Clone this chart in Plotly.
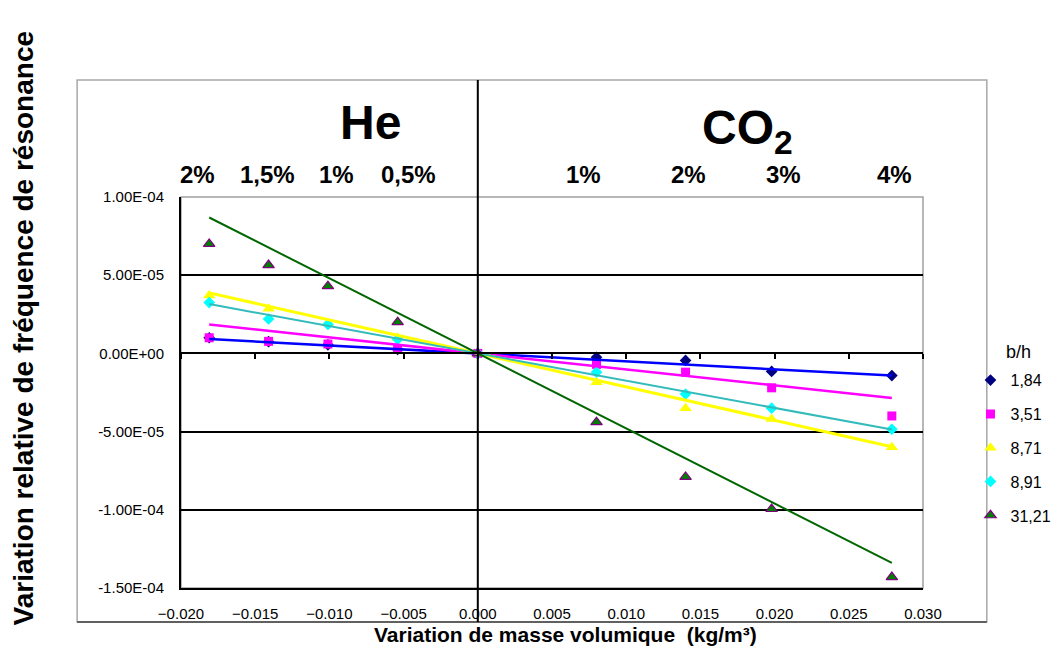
import plotly.graph_objects as go
import numpy as np

# variation de masse volumique (kg/m3), He a gauche, CO2 a droite
x_values = [-0.0181, -0.0141, -0.0101, -0.0054, 0.0, 0.0080, 0.0140, 0.0198, 0.0279]

series_names = ["1,84", "3,51", "8,71", "8,91", "31,21"]
y_184 = [1.0e-5, 0.75e-5, 0.55e-5, 0.25e-5, 0.0, -0.25e-5, -0.45e-5, -1.15e-5, -1.42e-5]
y_351 = [1.0e-5, 0.77e-5, 0.6e-5, 0.25e-5, 0.0, -0.7e-5, -1.2e-5, -2.2e-5, -4.0e-5]
y_871 = [3.7e-5, 2.85e-5, 1.95e-5, 1.0e-5, 0.0, -1.85e-5, -3.5e-5, -4.2e-5, -6.0e-5]
y_891 = [3.25e-5, 2.2e-5, 1.85e-5, 0.9e-5, 0.0, -1.2e-5, -2.6e-5, -3.5e-5, -4.85e-5]
y_3121 = [7.0e-5, 5.65e-5, 4.3e-5, 2.0e-5, 0.0, -4.4e-5, -7.9e-5, -9.95e-5, -1.43e-4]

y_tickvals = [1e-4, 5e-5, 0, -5e-5, -1e-4, -1.5e-4]
y_ticktext = ["1.00E-04", "5.00E-05", "0.00E+00", "-5.00E-05", "-1.00E-04", "-1.50E-04"]
x_tickvals = [-0.020, -0.015, -0.010, -0.005, 0.0, 0.005, 0.010, 0.015, 0.020, 0.025, 0.030]

# concentrations affichees au-dessus du graphe
he_labels = ["2%", "1,5%", "1%", "0,5%"]
he_label_x = [-0.0189, -0.0142, -0.0095, -0.0047]
co2_labels = ["1%", "2%", "3%", "4%"]
co2_label_x = [0.0071, 0.0142, 0.0206, 0.0281]

FONT = "Arial, Liberation Sans, sans-serif"

styles = [
    dict(symbol="diamond", color="#000080", line=dict(width=0), size=9, trend="#0000FF", tw=2.5),
    dict(symbol="square", color="#FF00FF", line=dict(width=0), size=9, trend="#FF00FF", tw=2.5),
    dict(symbol="triangle-up", color="#FFFF00", line=dict(width=0), size=11, trend="#FFFF00", tw=3),
    dict(symbol="diamond", color="#00FFFF", line=dict(width=0), size=9, trend="#33BBBB", tw=2),
    dict(symbol="triangle-up", color="#008000", line=dict(width=1.2, color="#800080"), size=10, trend="#006600", tw=2),
]

fig = go.Figure()

all_y = [y_184, y_351, y_871, y_891, y_3121]
xs = np.array(x_values)

# courbes de tendance lineaires (passant par l'origine)
for ys, st in zip(all_y, styles):
    ys = np.array(ys)
    slope = np.sum(xs * ys) / np.sum(xs * xs)
    xt = np.array([xs.min(), xs.max()])
    fig.add_trace(go.Scatter(x=xt, y=slope * xt, mode="lines", xaxis="x2",
                             line=dict(color=st["trend"], width=st["tw"]),
                             showlegend=False, hoverinfo="skip"))

for name, ys, st in zip(series_names, all_y, styles):
    fig.add_trace(go.Scatter(x=x_values, y=ys, mode="markers", name=name,
                             legendgroup=name,
                             marker=dict(symbol=st["symbol"], color=st["color"],
                                         size=st["size"], line=st["line"])))

annotations = []
annotations.append(dict(text="<b>He</b>", x=-0.0072, y=1.0, xref="x", yref="paper",
                        yanchor="bottom", yshift=46, showarrow=False,
                        font=dict(size=48, color="black", family=FONT)))
annotations.append(dict(text="<b>CO<sub>2</sub></b>", x=0.0182, y=1.0, xref="x", yref="paper",
                        yanchor="bottom", yshift=34, showarrow=False,
                        font=dict(size=48, color="black", family=FONT)))
for lab, xv in zip(he_labels + co2_labels, he_label_x + co2_label_x):
    annotations.append(dict(text="<b>%s</b>" % lab, x=xv, y=1.0, xref="x", yref="paper",
                            yanchor="middle", yshift=23, showarrow=False,
                            font=dict(size=24, color="black", family=FONT)))
annotations.append(dict(text="<b>Variation de masse volumique  (kg/m³)</b>",
                        x=0.518, y=-0.12, xref="paper", yref="paper",
                        yanchor="middle", showarrow=False,
                        font=dict(size=21, color="black", family=FONT)))
annotations.append(dict(text="<b>Variation relative de fréquence de résonance</b>",
                        x=-0.211, y=0.665, xref="paper", yref="paper", textangle=-90,
                        xanchor="center", yanchor="middle", showarrow=False,
                        font=dict(size=28, color="black", family=FONT)))
annotations.append(dict(text="b/h", x=1.109, y=0.604, xref="paper", yref="paper",
                        xanchor="left", yanchor="middle", showarrow=False,
                        font=dict(size=18, color="black", family=FONT)))

shapes = [
    # cadre exterieur
    dict(type="rect", xref="paper", yref="paper", x0=-0.140, x1=1.086, y0=-0.087, y1=1.299,
         line=dict(color="#A8A8A8", width=1.5), layer="below"),
    dict(type="line", xref="paper", yref="paper", x0=-0.140, x1=1.086, y0=-0.087, y1=-0.087,
         line=dict(color="#606060", width=2)),
    # bordure de la zone de trace
    dict(type="rect", xref="paper", yref="paper", x0=0, x1=1, y0=0, y1=1,
         line=dict(color="#A0A0A0", width=1.5), layer="below"),
    # separation He / CO2
    dict(type="line", xref="x", yref="paper", x0=0, x1=0, y0=-0.087, y1=1.299,
         line=dict(color="black", width=2)),
]

fig.update_layout(
    width=1048, height=638,
    margin=dict(l=173, r=133, t=189, b=58, autoexpand=False),
    plot_bgcolor="white", paper_bgcolor="white",
    font=dict(family=FONT, size=15, color="black"),
    xaxis=dict(range=[-0.020, 0.030], tickvals=x_tickvals, tickformat=".3f",
               showgrid=False, zeroline=False, showline=True, linecolor="black",
               linewidth=2, ticks="", ticklabelstandoff=11,
               tickfont=dict(size=15, family=FONT)),
    xaxis2=dict(matches="x", overlaying="x", anchor="free", position=0.6, side="bottom",
                tickvals=x_tickvals, showticklabels=False, showgrid=False, zeroline=False,
                showline=True, linecolor="black", linewidth=2,
                ticks="outside", ticklen=5, tickcolor="black", tickwidth=1.5),
    yaxis=dict(range=[-1.5e-4, 1.0e-4], tickvals=y_tickvals, ticktext=y_ticktext,
               showgrid=True, gridcolor="black", gridwidth=1.5, zeroline=False,
               showline=True, linecolor="black", linewidth=2, ticks="",
               ticklabelstandoff=12, tickfont=dict(size=15, family=FONT)),
    legend=dict(x=1.064, y=0.575, xanchor="left", yanchor="top",
                font=dict(size=16, family=FONT), tracegroupgap=10,
                bgcolor="rgba(0,0,0,0)", itemwidth=30),
    annotations=annotations,
    shapes=shapes,
)

fig.write_html("out.html")
